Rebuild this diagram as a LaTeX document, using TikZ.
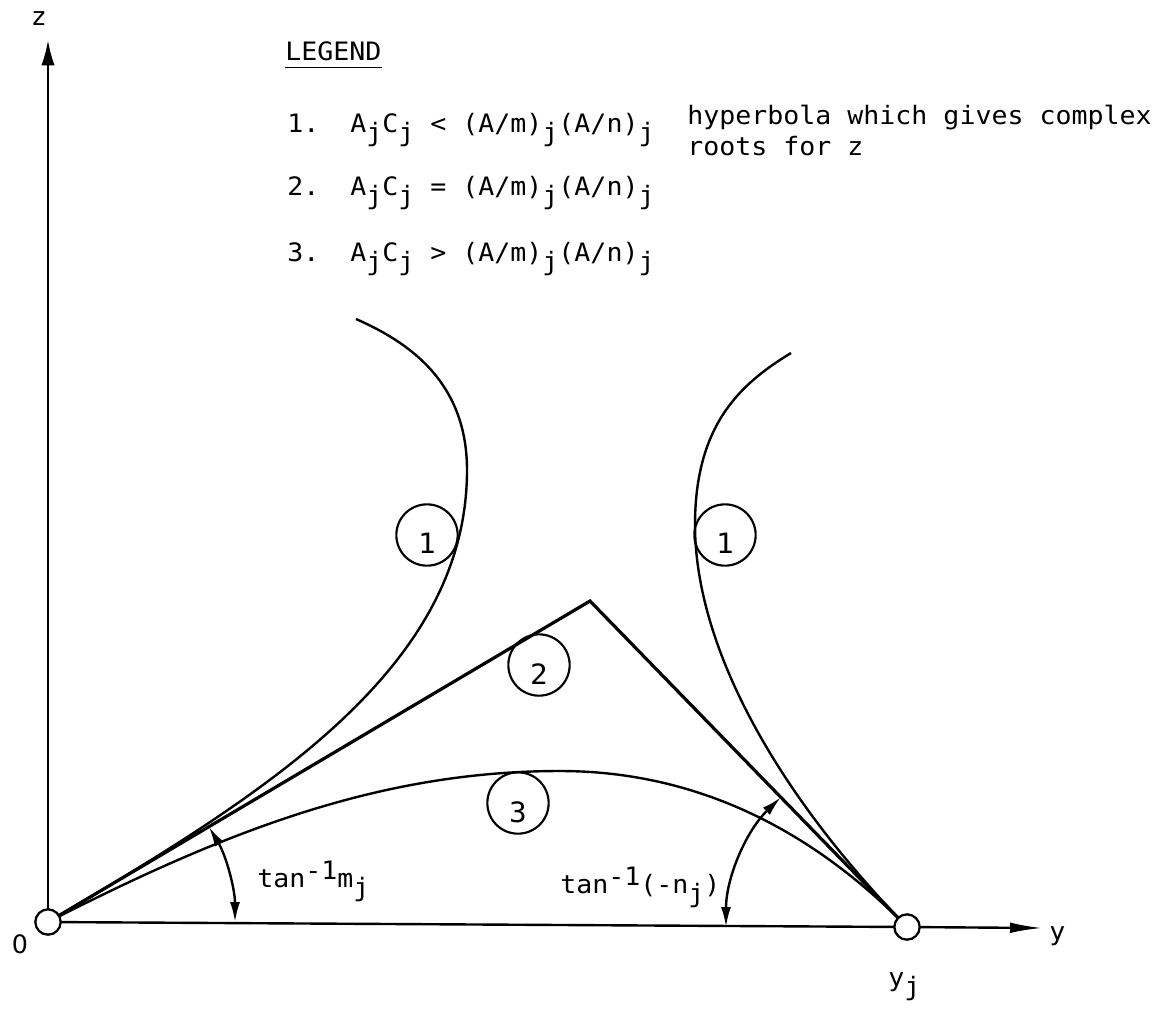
\documentclass[tikz,border=0pt]{standalone}
\usepackage{fontspec}
\newfontfamily\twb[FakeStretch=1.05]{DejaVu Sans Mono}
\newfontfamily\zerofont{DejaVu Sans}
\usetikzlibrary{arrows.meta}
\newcommand\subj{\raisebox{-7pt}{j}}
\newcommand\supm{\raisebox{6pt}{-1}}
\begin{document}
\begin{tikzpicture}[x=0.75pt,y=-0.75pt,
  every node/.style={inner sep=0pt, font=\twb\fontsize{19}{22}\selectfont},
  ax/.style={line width=1.8pt},
  hyp/.style={line width=1.8pt},
  lin/.style={line width=2.4pt, line join=miter},
  pt/.style={circle, draw, fill=white, line width=1.7pt, minimum size=19pt},
  lab/.style={circle, draw, line width=1.6pt, minimum size=46pt},
  num/.style={font=\twb\fontsize{21}{24}\selectfont},
  ang/.style={line width=1.8pt, {Latex[length=15pt,width=7.5pt]}-{Latex[length=15pt,width=7.5pt]}},
]
\useasboundingbox (0,0) rectangle (1166,1015);

% key points
\coordinate (O) at (48,922);
\coordinate (Yj) at (907,927);
\coordinate (A) at (590,601);
\coordinate (ztip) at (48,40);
\coordinate (ytip) at (1042,928);
\coordinate (HL) at (467,470);
\coordinate (TL) at (356,319);
\coordinate (HR) at (695,525);
\coordinate (TR) at (791,353);
\coordinate (P3) at (560,771);

% axes
\draw[ax, -{Latex[length=19pt,width=10pt]}] (O) -- (ztip);
\draw[ax] (O) -- (Yj);
\draw[ax, -{Latex[length=24pt,width=8pt]}] (Yj) -- (ytip);

% curve 2 (two straight lines)
\draw[lin] (O) -- (A) -- (Yj);

% curves 1 (hyperbola branches)
\draw[hyp] (O) .. controls (263,795) and (467,670) .. (HL)
               .. controls (467,380) and (406,341) .. (TL);
\draw[hyp] (Yj) .. controls (768,784) and (695,640) .. (HR)
                .. controls (695,425) and (740,384) .. (TR);

% curve 3
\draw[hyp] (O) .. controls (226,831) and (380,771) .. (P3)
               .. controls (710,771) and (824,842) .. (Yj);

% angle arcs
\draw[ang] ([shift={(-30.6:187)}]O) arc[start angle=-30.6, end angle=0, radius=187];
\draw[ang] ([shift={(180:181)}]Yj) arc[start angle=180, end angle=225.8, radius=181];

% end points
\node[pt] (Oc) at (O) {};
\node[pt] (Yc) at (Yj) {};

% curve labels
\node[lab] (c1l) at (427,535) {};
\node[num] at ([yshift=-6pt]c1l) {1};
\node[lab] (c1r) at (725,535) {};
\node[num] at ([yshift=-6pt]c1r) {1};
\node[lab] (c2) at (539,665) {};
\node[num] at ([yshift=-7pt]c2) {2};
\node[lab] (c3) at (518,803) {};
\node[num] at ([yshift=-7pt]c3) {3};

% axis labels
\node[anchor=base] (zl) at (39,25) {z};
\node[anchor=base, font=\zerofont\fontsize{19}{22}\selectfont] (ol) at (20,953) {0};
\node[anchor=base west] (yl) at (1049,940) {y};
\node[anchor=base west] (yjl) at (888,986) {y\subj};

% angle labels
\node[anchor=base west] (tm) at (257,887) {tan\supm m\subj};
\node[anchor=base west] (tn) at (560,893) {tan\supm(-n\subj)};

% legend
\node[anchor=base west] (leg) at (285,60) {LEGEND};
\draw[line width=1.2pt] ([yshift=-5.5pt]leg.base west) -- ([yshift=-5.5pt]leg.base east);

\node[anchor=base west] (n1) at (287,132) {1.};
\node[anchor=base west] (f1) at (350,132) {A\subj C\subj\ <\ (A/m)\subj(A/n)\subj};
\node[anchor=base west] (h1) at (687,124) {hyperbola which gives complex};
\node[anchor=base west] (h2) at (687,155) {roots for z};

\node[anchor=base west] (n2) at (287,195) {2.};
\node[anchor=base west] (f2) at (350,195) {A\subj C\subj\ =\ (A/m)\subj(A/n)\subj};

\node[anchor=base west] (n3) at (287,261) {3.};
\node[anchor=base west] (f3) at (350,261) {A\subj C\subj\ >\ (A/m)\subj(A/n)\subj};
\end{tikzpicture}
\end{document}
